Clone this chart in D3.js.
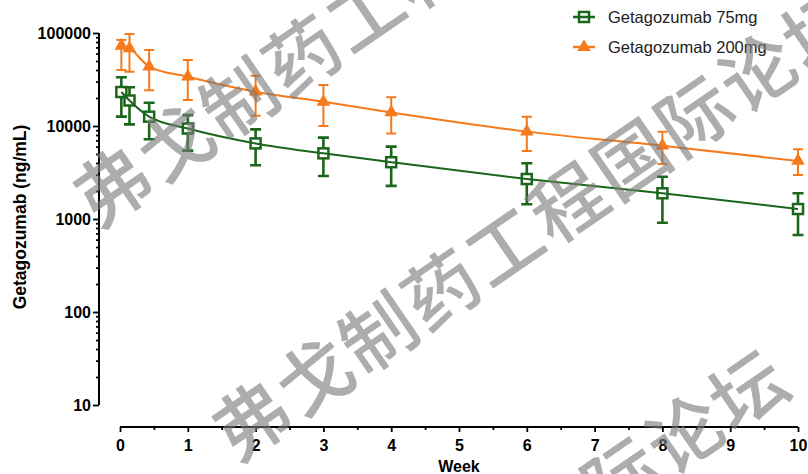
<!DOCTYPE html>
<html>
<head>
<meta charset="utf-8">
<script src="https://cdn.jsdelivr.net/npm/d3@7"></script>
<style>
  html, body { margin: 0; padding: 0; background: #fff; }
  svg { display: block; }
  text { font-family: "Liberation Sans", Arial, Helvetica, sans-serif; }
</style>
</head>
<body>
<svg id="chart" width="808" height="474"></svg>
<script>
// Serum concentration time course (mean with error bars), log y-axis
const weeks75  = [0.02, 0.14, 0.43, 1, 2, 3, 4, 6, 8, 10];
const mean75   = [23200, 18800, 12600, 9400, 6500, 5080, 4080, 2690, 1890, 1280];
const upper75  = [33400, 26100, 17800, 13100, 9200, 7500, 6000, 3970, 2850, 1890];
const lower75  = [12600, 10400, 7200, 5440, 3780, 2900, 2270, 1440, 912, 673];

const weeks200 = [0.02, 0.14, 0.43, 1, 2, 3, 4, 6, 8, 10];
const mean200  = [73000, 68500, 43500, 33900, 23400, 18200, 14000, 8700, 6140, 4210];
const upper200 = [84000, 97500, 65700, 51300, 34600, 27600, 20400, 12600, 8690, 5610];
const lower200 = [40000, 38400, 24200, 19000, 12900, 10000, 8300, 5380, 3900, 2970];

const seriesNames = ["Getagozumab 75mg", "Getagozumab 200mg"];
const xTicks = [0, 1, 2, 3, 4, 5, 6, 7, 8, 9, 10];
const yTicks = [10, 100, 1000, 10000, 100000];
const xTitle = "Week";
const yTitle = "Getagozumab (ng/mL)";
const watermark = "弗戈制药工程国际论坛";

const GREEN = "#1a661a";
const ORANGE = "#f47a1c";

const svg = d3.select("#chart");

const x = d3.scaleLinear().domain([0, 10]).range([120, 798]);
const y = d3.scaleLog().domain([10, 100000]).range([405, 33]);

// ---- Y axis (offset, with minor decade ticks) ----
const minorY = [];
yTicks.slice(0, -1).forEach(d => { for (let k = 2; k <= 9; k++) minorY.push(d * k); });

const yAxisG = svg.append("g").attr("transform", "translate(99,0)");
yAxisG.call(d3.axisLeft(y).tickValues(yTicks).tickFormat(d3.format("d")).tickSize(6).tickPadding(2));
yAxisG.append("g").call(d3.axisLeft(y).tickValues(minorY).tickFormat("").tickSize(3))
  .select(".domain").remove();
yAxisG.selectAll(".domain").attr("stroke-width", 2).attr("d", `M0,${y(100000)}V${y(10)}`);
yAxisG.selectAll(".tick line").attr("stroke-width", 1.8).attr("stroke", "#000");
yAxisG.selectAll(".tick text")
  .attr("font-size", 16).attr("font-weight", "bold").attr("fill", "#000");

// ---- X axis (offset below the plot, with half-week minor ticks) ----
const minorX = d3.range(0.5, 10, 1);
const xAxisG = svg.append("g").attr("transform", "translate(0,427)");
xAxisG.call(d3.axisBottom(x).tickValues(xTicks).tickFormat(d3.format("d")).tickSize(5).tickPadding(8));
xAxisG.append("g").call(d3.axisBottom(x).tickValues(minorX).tickFormat("").tickSize(3))
  .select(".domain").remove();
xAxisG.selectAll(".domain").attr("stroke-width", 2).attr("d", `M${x(0)},0H${x(10)}`);
xAxisG.selectAll(".tick line").attr("stroke-width", 1.8).attr("stroke", "#000");
xAxisG.selectAll(".tick text")
  .attr("font-size", 16).attr("font-weight", "bold").attr("fill", "#000");

svg.append("text")
  .attr("x", x(5)).attr("y", 472)
  .attr("text-anchor", "middle")
  .attr("font-size", 16).attr("font-weight", "bold")
  .text(xTitle);

svg.append("text")
  .attr("transform", "translate(26,217) rotate(-90)")
  .attr("text-anchor", "middle")
  .attr("font-size", 17.5).attr("font-weight", "bold")
  .text(yTitle);

// ---- Series ----
function rows(w, m, u, l) {
  return w.map((d, i) => ({ week: d, mean: m[i], hi: u[i], lo: l[i] }));
}
const data75 = rows(weeks75, mean75, upper75, lower75);
const data200 = rows(weeks200, mean200, upper200, lower200);

const line = d3.line().x(d => x(d.week)).y(d => y(d.mean)).curve(d3.curveMonotoneX);

function drawSeries(data, color, opts) {
  const g = svg.append("g");
  g.append("path").datum(data)
    .attr("fill", "none").attr("stroke", color).attr("stroke-width", 2)
    .attr("d", line);

  const bars = g.selectAll("g.err").data(data).join("g").attr("class", "err");
  // vertical whiskers drawn outside the marker
  bars.append("path")
    .attr("fill", "none").attr("stroke", color).attr("stroke-width", opts.errWidth)
    .attr("d", d => {
      const cx = x(d.week), cy = y(d.mean);
      const yh = y(d.hi), yl = y(d.lo);
      return `M${cx},${cy - opts.gap}V${yh}M${cx - opts.cap},${yh}H${cx + opts.cap}` +
             `M${cx},${cy + opts.gap}V${yl}M${cx - opts.cap},${yl}H${cx + opts.cap}`;
    });

  if (opts.shape === "square") {
    g.selectAll("rect.pt").data(data).join("rect").attr("class", "pt")
      .attr("x", d => x(d.week) - 5).attr("y", d => y(d.mean) - 5)
      .attr("width", 10).attr("height", 10)
      .attr("fill", "none").attr("stroke", color).attr("stroke-width", 2.5);
  } else {
    const tri = d3.symbol().type(d3.symbolTriangle).size(80);
    g.selectAll("path.pt").data(data).join("path").attr("class", "pt")
      .attr("transform", d => `translate(${x(d.week)},${y(d.mean)})`)
      .attr("d", tri).attr("fill", color);
  }
}

drawSeries(data75, GREEN, { shape: "square", errWidth: 2.6, cap: 5.5, gap: 5 });
drawSeries(data200, ORANGE, { shape: "triangle", errWidth: 2, cap: 5, gap: 3 });

// ---- Legend ----
const legend = svg.append("g");
const legendItems = [
  { name: seriesNames[0], color: GREEN, shape: "square", y: 17 },
  { name: seriesNames[1], color: ORANGE, shape: "triangle", y: 47 }
];
legendItems.forEach(it => {
  legend.append("line")
    .attr("x1", 573).attr("x2", 595).attr("y1", it.y).attr("y2", it.y)
    .attr("stroke", it.color).attr("stroke-width", 2.5);
  if (it.shape === "square") {
    legend.append("rect").attr("x", 579).attr("y", it.y - 5).attr("width", 10).attr("height", 10)
      .attr("fill", "none").attr("stroke", it.color).attr("stroke-width", 2.5);
  } else {
    legend.append("path")
      .attr("transform", `translate(584,${it.y})`)
      .attr("d", d3.symbol().type(d3.symbolTriangle).size(80)).attr("fill", it.color);
  }
  legend.append("text")
    .attr("x", 608).attr("y", it.y).attr("dy", "0.36em")
    .attr("font-size", 16.5).attr("fill", "#222")
    .text(it.name);
});

// ---- Watermark (diagonal repeated caption) ----
const angle = -34.5;
const step = 76.8;
const ux = Math.cos(angle * Math.PI / 180), uy = Math.sin(angle * Math.PI / 180);
const wmRuns = [
  { x0: 113, y0: 187 },
  { x0: 252, y0: 421 },
  { x0: 622 - 7 * step * ux, y0: 478 - 7 * step * uy }
];
const wm = svg.append("g").attr("fill", "#7a7a7a").attr("fill-opacity", 0.62);
wmRuns.forEach(run => {
  Array.from(watermark).forEach((ch, i) => {
    const cx = run.x0 + i * step * ux, cy = run.y0 + i * step * uy;
    wm.append("text")
      .attr("transform", `translate(${cx},${cy}) rotate(${angle})`)
      .attr("text-anchor", "middle").attr("dy", "0.36em")
      .style("font-family", '"Noto Sans CJK SC", sans-serif')
      .attr("font-weight", 500)
      .attr("font-size", 74)
      .text(ch);
  });
});
</script>
</body>
</html>
